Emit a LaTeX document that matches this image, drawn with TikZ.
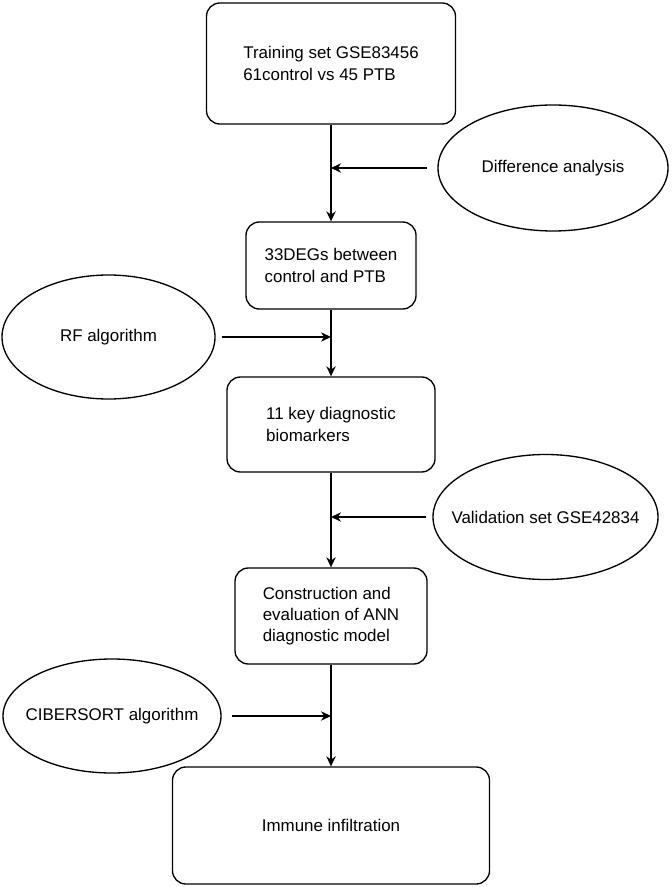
\documentclass[tikz,border=0pt]{standalone}
\usepackage{fontspec}
\setmainfont{Liberation Sans}
\usepackage{tikz}
\usetikzlibrary{arrows.meta,shapes.geometric}

\begin{document}
\begin{tikzpicture}[-,>={Stealth[length=7.5pt,width=7pt]},x=0.75pt,y=-0.75pt,
                    line width=1pt,font=\fontsize{12.7}{16}\selectfont,
                    stage/.style={draw,rounded corners=10pt,align=left,inner sep=0pt},
                    oval/.style={draw,ellipse,inner sep=0pt}]
  \useasboundingbox (0,0) rectangle (671,887);

  \node[stage,minimum width=186.75pt,minimum height=90.75pt] (train)  at (331,63.5)  {Training set GSE83456\\61control vs 45 PTB};
  \node[stage,minimum width=127.5pt,minimum height=65.25pt]  (degs)   at (331,265.5) {33DEGs between\\control and PTB};
  \node[stage,minimum width=156pt,minimum height=71.25pt]    (keys)   at (331,424.5) {11 key diagnostic\\biomarkers};
  \node[stage,minimum width=144pt,minimum height=72pt]       (ann)    at (331,616)   {Construction and\\evaluation of ANN\\diagnostic model};
  \node[stage,minimum width=237.75pt,minimum height=87.75pt] (immune) at (331,825.5) {Immune infiltration};

  \node[oval,minimum width=172.5pt,minimum height=94.5pt,label=center:Difference analysis]     (diff)      at (553,168)   {};
  \node[oval,minimum width=159.75pt,minimum height=93pt,label=center:RF algorithm]             (rf)        at (108.5,337) {};
  \node[oval,minimum width=168.75pt,minimum height=93.75pt,label=center:Validation set GSE42834] (valid)   at (545.5,517) {};
  \node[oval,minimum width=163.5pt,minimum height=85.5pt,label=center:CIBERSORT algorithm]     (cibersort) at (112,716)   {};

  \coordinate (j1) at (train.south |- diff);
  \coordinate (j2) at (degs.south |- rf);
  \coordinate (j3) at (keys.south |- valid);
  \coordinate (j4) at (ann.south |- cibersort);

  \path (train) edge[->] (degs)
        (degs)  edge[->] (keys)
        (keys)  edge[->] (ann)
        (ann)   edge[->] (immune)
        (diff)      edge[->,shorten <=8pt]   (j1)
        (rf)        edge[->,shorten <=4.5pt] (j2)
        (valid)     edge[->,shorten <=4.5pt] (j3)
        (cibersort) edge[->,shorten <=8pt]   (j4);
\end{tikzpicture}
\end{document}
